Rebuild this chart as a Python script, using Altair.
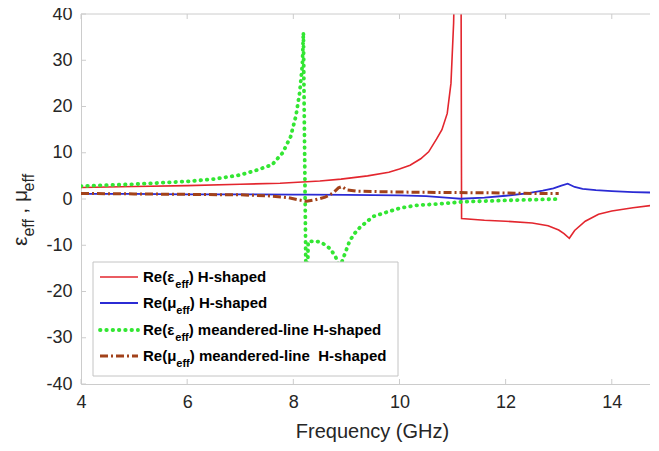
import altair as alt
import pandas as pd

# ---------------- data ----------------
f_eps_h = [4, 5, 6, 7, 7.75, 8.5, 8.9, 9.4, 9.8, 10.0, 10.2, 10.4, 10.55, 10.7, 10.8, 10.9,
           10.97, 11.02, 11.05, 11.12, 11.16, 11.17, 11.6, 12.0, 12.5, 12.8, 13.0, 13.1,
           13.2, 13.3, 13.5, 13.75, 14.0, 14.4, 14.75]
v_eps_h = [2.5, 2.7, 2.9, 3.2, 3.4, 3.9, 4.3, 5.0, 5.8, 6.5, 7.3, 8.7, 10.2, 13.0, 15.0, 18.5,
           25.0, 38.0, 55.0, 70.0, 50.0, -4.2, -4.6, -4.8, -5.2, -5.8, -6.7, -7.5,
           -8.5, -6.8, -4.8, -3.3, -2.6, -1.9, -1.4]

f_mu_h = [4, 5, 6, 7, 8, 8.25, 9, 10, 10.5, 11.0, 11.15, 11.6, 12.0, 12.4, 12.7, 12.9,
          13.05, 13.17, 13.3, 13.45, 13.7, 14.0, 14.4, 14.75]
v_mu_h = [1.1, 1.1, 1.0, 1.0, 0.95, 0.95, 0.9, 0.8, 0.6, 0.2, 0.05, 0.3, 0.7, 1.2, 1.8, 2.3,
          2.9, 3.3, 2.6, 2.2, 1.9, 1.7, 1.5, 1.4]

f_eps_m = [4, 4.5, 5, 5.5, 6, 6.5, 7, 7.3, 7.6, 7.8, 7.95, 8.05, 8.12, 8.17, 8.19, 8.25,
           8.28, 8.4, 8.5, 8.6, 8.7, 8.8, 8.87, 8.95, 9.06, 9.15, 9.25, 9.5, 9.8, 10.0,
           10.3, 10.8, 11.2, 12.0, 13.0]
v_eps_m = [2.8, 3.0, 3.2, 3.5, 3.8, 4.3, 5.2, 6.2, 7.4, 10.0, 13.5, 18.0, 23.0, 29.0, 36.0, -30.0,
           -9.2, -9.1, -9.3, -9.9, -10.8, -12.6, -15.0, -12.5, -9.1, -7.5, -6.2, -3.8, -2.7, -2.0,
           -1.4, -1.0, -0.6, -0.3, 0.0]

f_mu_m = [4, 5, 6, 7, 7.5, 7.9, 8.1, 8.25, 8.4, 8.6, 8.75, 8.85, 8.92, 9.0, 9.2, 9.6, 10, 11,
          12, 12.5, 13]
v_mu_m = [1.2, 1.1, 1.0, 0.9, 0.7, 0.3, -0.2, -0.5, -0.2, 0.4, 1.3, 2.4, 2.7, 2.0, 1.7, 1.6,
          1.5, 1.4, 1.3, 1.2, 1.2]

x_ticks = [4, 6, 8, 10, 12, 14]
y_ticks = [-40, -30, -20, -10, 0, 10, 20, 30, 40]

x_title = "Frequency (GHz)"
legend_main = ["Re(\u03b5", "Re(\u03bc", "Re(\u03b5", "Re(\u03bc"]
legend_rest = [") H-shaped", ") H-shaped", ") meandered-line H-shaped",
               ") meandered-line\u00a0 H-shaped"]
legend_sub = "eff"

RED, BLUE, GREEN, BROWN = "#e3262e", "#2b2bd4", "#33e633", "#a2421a"
GREY = "#cccccc"
TXT = "#262626"
FONT = "Liberation Sans"

# ---------------- layout ----------------
PT = 6            # top padding -> plot top at page y 14
W, H = 569, 370   # plot bottom at page y 384
X_DOMAIN = [4, 14.72]
x_scale = alt.Scale(domain=X_DOMAIN, nice=False, zero=False)
y_scale = alt.Scale(domain=[-40, 40], nice=False)

xaxis = alt.Axis(values=x_ticks, title=x_title, titleFontSize=20, titleFont=FONT,
                 titleFontWeight="normal", titleColor=TXT, titleX=291, titleY=53,
                 titleBaseline="alphabetic", titleAlign="center",
                 labelFontSize=18, labelFont=FONT, labelColor=TXT, labelPadding=9,
                 labelFlush=False, labelOverlap=False, ticks=False, grid=False,
                 domainColor=GREY, format="d")
yaxis = alt.Axis(values=y_ticks, title=None, labelExpr="'' + datum.value",
                 labelFontSize=18, labelFont=FONT, labelColor=TXT, labelPadding=9,
                 labelFlush=False, labelOverlap=False, ticks=False, grid=False,
                 domainColor=GREY)


def series(f, v, **mark):
    df = pd.DataFrame({"f": f, "v": v})
    return alt.Chart(df).mark_line(clip=True, **mark).encode(
        x=alt.X("f:Q", scale=x_scale, axis=xaxis),
        y=alt.Y("v:Q", scale=y_scale, axis=yaxis),
    )


styles = [
    dict(color=RED, strokeWidth=1.6),
    dict(color=BLUE, strokeWidth=1.8),
    dict(color=GREEN, strokeWidth=3.8, strokeDash=[0.5, 5.8], strokeCap="round"),
    dict(color=BROWN, strokeWidth=3.0, strokeDash=[8, 3, 2, 3]),
]

layers = [
    series(f_eps_h, v_eps_h, **styles[0]),
    series(f_mu_h, v_mu_h, **styles[1]),
    series(f_eps_m, v_eps_m, **styles[2]),
    series(f_mu_m, v_mu_m, **styles[3]),
]

one = pd.DataFrame({"a": [0]})

# frame: top border + inward ticks
layers.append(alt.Chart(one).mark_rule(color=GREY).encode(
    x=alt.value(0), x2=alt.value(W), y=alt.value(0)))
xt = pd.DataFrame({"t": x_ticks})
yt = pd.DataFrame({"t": y_ticks})
layers.append(alt.Chart(xt).mark_rule(color=GREY).encode(
    x=alt.X("t:Q", scale=x_scale, axis=xaxis), y=alt.value(H), y2=alt.value(H - 5)))
layers.append(alt.Chart(xt).mark_rule(color=GREY).encode(
    x=alt.X("t:Q", scale=x_scale, axis=xaxis), y=alt.value(0), y2=alt.value(5)))
layers.append(alt.Chart(yt).mark_rule(color=GREY).encode(
    y=alt.Y("t:Q", scale=y_scale, axis=yaxis), x=alt.value(0), x2=alt.value(5)))

# ---------------- legend (manual, for subscripts) ----------------
OY = PT - 3
layers.append(alt.Chart(one).mark_rect(fill="white", stroke="#c4c4c4", strokeWidth=1).encode(
    x=alt.value(12), x2=alt.value(317), y=alt.value(251 - OY), y2=alt.value(365 - OY)))

BOLD_W = {"R": .722, "e": .556, "(": .333, ")": .333, " ": .278, "\u00a0": .278, "H": .722,
          "-": .333, "s": .556, "h": .611, "a": .556, "p": .611, "d": .611, "m": .889,
          "n": .611, "r": .389, "l": .278, "i": .278, "f": .333, "\u03b5": .54, "\u03bc": .611}
REG_W = {"e": .556, "f": .278, ",": .278, "\u03b5": .45, "\u03bc": .5}


def tw(s, size, table):
    return sum(table.get(c, .556) for c in s) * size


row_y = [266 - OY, 292 - OY, 319 - OY, 345 - OY]
LS, SS = 15, 11
for i in range(4):
    st = {k: v for k, v in styles[i].items()}
    layers.append(alt.Chart(one).mark_rule(**st).encode(
        x=alt.value(19), x2=alt.value(57), y=alt.value(row_y[i])))
    base = row_y[i] + 5
    x0 = 62
    x1 = x0 + tw(legend_main[i], LS, BOLD_W)
    x2 = x1 + tw(legend_sub, SS, BOLD_W)
    for txt, xx, yy, fs in [(legend_main[i], x0, base, LS), (legend_sub, x1, base + 6, SS),
                            (legend_rest[i], x2, base, LS)]:
        layers.append(alt.Chart(one).mark_text(
            text=txt, align="left", baseline="alphabetic", fontSize=fs, fontWeight="bold",
            font=FONT, color="black").encode(x=alt.value(xx), y=alt.value(yy)))

# ---------------- y-axis title (rotated, with subscripts) ----------------
MS, YS = 21, 16
bx = -54
# (text, font size, baseline offset, extra gap after)
pieces = [("\u03b5", MS, 0, 0), ("eff", YS, 7, 5), (",", MS, 0, 6),
          ("\u03bc", MS, 0, 0), ("eff", YS, 7, 0)]
yy = 235.0 - OY
for txt, fs, off, gap in pieces:
    layers.append(alt.Chart(one).mark_text(
        text=txt, align="left", baseline="alphabetic", angle=270, fontSize=fs,
        font=FONT, color=TXT).encode(x=alt.value(bx + off), y=alt.value(yy)))
    yy -= tw(txt, fs, REG_W) + gap

chart = alt.layer(*layers).properties(
    width=W, height=H,
    padding={"left": 73, "top": PT, "right": 0, "bottom": 59},
    autosize=alt.AutoSizeParams(type="none"),
    background="white",
).configure_view(stroke=None)

chart.save("out.html", embed_options={"renderer": "svg", "actions": False})
